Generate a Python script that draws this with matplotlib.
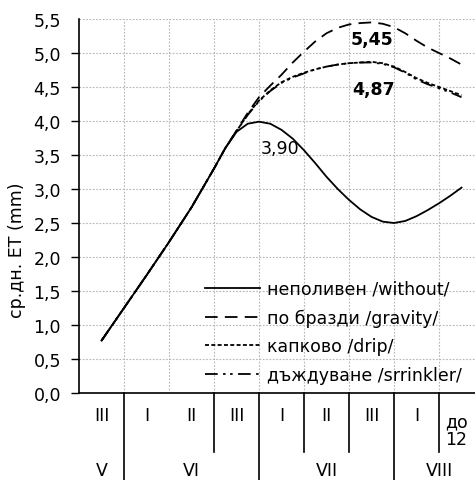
import matplotlib
matplotlib.use("Agg")
import matplotlib.pyplot as plt
from matplotlib.ticker import FuncFormatter, FixedLocator
import matplotlib.transforms as mtransforms

plt.rcParams['font.family'] = ['DejaVu Sans']

# ---- data (x in ten-day periods, 0 = start of 3rd decade of May) ----
x_pos = [0.5, 1.0, 1.5, 2.0, 2.5, 3.0, 3.25, 3.5, 3.75, 4.0, 4.25, 4.5, 4.75, 5.0, 5.25, 5.5,
         5.75, 6.0, 6.25, 6.5, 6.75, 7.0, 7.25, 7.5, 7.75, 8.0, 8.25, 8.5]
without = [0.77, 1.25, 1.73, 2.22, 2.73, 3.30, 3.60, 3.84, 3.96, 3.99, 3.96, 3.87, 3.74, 3.57, 3.38, 3.18,
           3.00, 2.84, 2.70, 2.59, 2.52, 2.50, 2.53, 2.60, 2.69, 2.79, 2.90, 3.02]
gravity = [0.77, 1.25, 1.73, 2.22, 2.73, 3.30, 3.60, 3.86, 4.12, 4.35, 4.52, 4.68, 4.86, 5.02, 5.17, 5.29,
           5.37, 5.42, 5.44, 5.45, 5.43, 5.38, 5.29, 5.18, 5.08, 5.00, 4.92, 4.83]
drip = [0.77, 1.25, 1.73, 2.22, 2.73, 3.30, 3.60, 3.85, 4.10, 4.30, 4.45, 4.57, 4.65, 4.71, 4.76, 4.80,
        4.83, 4.85, 4.86, 4.87, 4.85, 4.80, 4.72, 4.63, 4.56, 4.50, 4.44, 4.38]
sprinkler = [0.77, 1.25, 1.73, 2.22, 2.73, 3.30, 3.60, 3.85, 4.09, 4.29, 4.44, 4.56, 4.64, 4.70, 4.76, 4.80,
             4.83, 4.85, 4.86, 4.86, 4.84, 4.79, 4.71, 4.61, 4.54, 4.48, 4.42, 4.35]

labels = ["неполивен /without/", "по бразди /gravity/", "капково /drip/", "дъждуване /srrinkler/"]

y_ticks = [0.0, 0.5, 1.0, 1.5, 2.0, 2.5, 3.0, 3.5, 4.0, 4.5, 5.0, 5.5]

decade_labels = ["III", "I", "II", "III", "I", "II", "III", "I"]
decade_pos = [0.5, 1.5, 2.5, 3.5, 4.5, 5.5, 6.5, 7.5]
last_decade_label = "до\n12"
last_decade_pos = 8.13
month_labels = ["V", "VI", "VII", "VIII"]
month_pos = [0.5, 2.5, 5.5, 8.0]
long_sep = [1, 4, 7]
short_sep = [3, 5, 6, 8]

annotations = [("3,90", 4.47, 3.60, "normal"), ("5,45", 6.5, 5.21, "bold"), ("4,87", 6.55, 4.47, "bold")]

FS = 12.5

# ---- figure ----
fig = plt.figure(figsize=(4.75, 4.81), dpi=100)
ax = fig.add_axes([79/475, 87/481, 396/475, 374/481])

lw = 1.3
ax.plot(x_pos, without, color='black', lw=lw, ls='-', label=labels[0])
ax.plot(x_pos, gravity, color='black', lw=lw, ls=(0, (7, 4)), label=labels[1])
ax.plot(x_pos, drip, color='black', lw=lw, ls=(0, (2.2, 1.3)), label=labels[2])
ax.plot(x_pos, sprinkler, color='black', lw=lw, ls=(0, (7, 3, 1.4, 2.5, 1.4, 3)), label=labels[3])

ax.set_xlim(0, 8.8)
ax.set_ylim(0, 5.5)
ax.yaxis.set_major_locator(FixedLocator(y_ticks))
ax.yaxis.set_major_formatter(FuncFormatter(lambda v, p: f"{v:.1f}".replace('.', ',')))
ax.set_xticks(range(1, 9))
ax.tick_params(axis='x', length=0, labelbottom=False)
ax.tick_params(axis='y', length=6, width=1, labelsize=FS, pad=7, color='black')
ax.grid(True, color='#b5b5b5', ls=(0, (1.5, 1.5)), lw=0.8)
ax.set_axisbelow(True)
for s in ['top', 'right']:
    ax.spines[s].set_visible(False)
for s in ['left', 'bottom']:
    ax.spines[s].set_linewidth(1.2)
    ax.spines[s].set_color('black')

ax.set_ylabel("ср.дн. ET (mm)", fontsize=FS)
ax.yaxis.set_label_coords(-0.135, 0.385)

for txt, xx, yy, wt in annotations:
    ax.text(xx, yy, txt, fontsize=FS, fontweight=wt, ha='center', va='center')

leg = ax.legend(loc='upper left', bbox_to_anchor=(0.318, 0.303), frameon=False,
                fontsize=FS, handlelength=3.2, handletextpad=0.35, labelspacing=0.62,
                borderpad=0, borderaxespad=0)

# ---- table below the axis ----
trans = mtransforms.blended_transform_factory(ax.transData, ax.transAxes)
for xx in long_sep:
    ax.plot([xx, xx], [0, -0.25], transform=trans, color='black', lw=1.2, clip_on=False)
for xx in short_sep:
    ax.plot([xx, xx], [0, -0.158], transform=trans, color='black', lw=1.2, clip_on=False)
for lab, xx in zip(decade_labels, decade_pos):
    ax.text(xx, -0.059, lab, transform=trans, ha='center', va='center', fontsize=FS)
ax.text(last_decade_pos, -0.099, last_decade_label, transform=trans, ha='left', va='center',
        fontsize=FS, linespacing=0.95)
for lab, xx in zip(month_labels, month_pos):
    ax.text(xx, -0.207, lab, transform=trans, ha='center', va='center', fontsize=FS)

fig.canvas.draw()
ax.yaxis.get_major_ticks()[-1].tick1line.set_visible(False)

fig.savefig("out.png", dpi=100)
